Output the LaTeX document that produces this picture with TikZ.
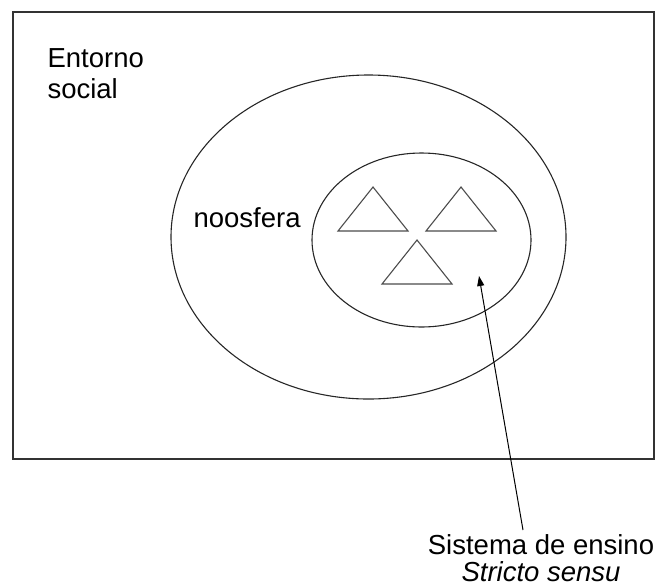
\documentclass[tikz,border=0pt]{standalone}
\usepackage{fontspec}
\setmainfont{Liberation Sans}
\usetikzlibrary{arrows.meta}

\begin{document}
\begin{tikzpicture}[x=1pt,y=-1pt,line width=1.1pt,
	lbl/.style={inner sep=0pt,font=\fontsize{27.5}{31}\selectfont},
	pointer/.style={-{Triangle[length=10pt,width=7pt]},line width=1pt}]
\useasboundingbox (0,0) rectangle (669,587);

% social environment
\draw[line width=1.3pt,black!80] (13,12) rectangle (654,459);
\node[lbl,anchor=base west] (entorno) at (47,67) {Entorno};
\node[lbl,anchor=base west] (social) at (47,98) {social};

% noosphere and teaching system
\draw[black!85] (368.5,237) ellipse [x radius=197.5,y radius=162];
\node[lbl,anchor=base west] (noosfera) at (193,227) {noosfera};
\draw[black!85] (421.5,240) ellipse [x radius=109.5,y radius=87];

% triangles
\foreach \x/\y in {373/187,461/187,417/240}
  \draw[black!70] (\x,\y) -- ++(35,44) -- ++(-70,0) -- cycle;

% label and arrow
\node[lbl,anchor=base] (sistema) at (541,554) {Sistema de ensino};
\node[lbl,anchor=base,font=\fontsize{27.5}{31}\selectfont\itshape] (stricto) at (541,581) {Stricto sensu};
\coordinate (tail) at (523,530);
\coordinate (tip) at (479,276);
\draw[pointer] (tail) -- (tip);

\end{tikzpicture}
\end{document}
